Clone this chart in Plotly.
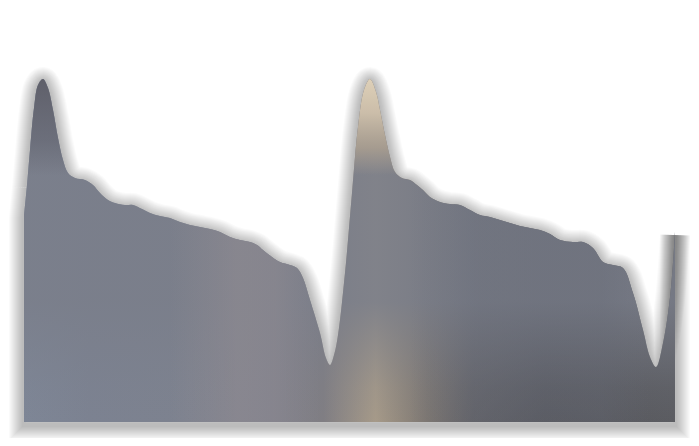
import plotly.graph_objects as go

# sample positions along the horizontal axis
t = [0, 3, 6, 10, 14, 19, 24, 29, 34, 39, 44, 51, 61, 69, 76, 84, 91, 101, 109, 118,
     126, 136, 146, 156, 166, 176, 186, 196, 206, 216, 226, 233, 239, 248, 256, 266, 273, 279, 286, 296,
     302, 306, 310, 314, 321, 328, 334, 340, 346, 352, 356, 361, 366, 371, 378, 386, 393, 399, 406, 416,
     426, 436, 446, 456, 466, 476, 486, 496, 506, 516, 526, 536, 549, 559, 569, 579, 589, 599, 609, 619,
     626, 632, 639, 646, 651]
# signal amplitude at each sample
amplitude = [207, 237, 272, 314, 337, 343, 334, 312, 284, 262, 249, 244, 242, 237, 229, 222, 219, 217, 217, 213,
             209, 206, 204, 200, 197, 195, 193, 190, 185, 182, 180, 177, 172, 165, 160, 157, 154, 144, 122, 89,
             64, 57, 67, 87, 149, 229, 295, 332, 343, 330, 312, 287, 265, 250, 244, 242, 237, 232, 225, 220,
             218, 217, 212, 207, 205, 202, 199, 196, 194, 192, 188, 182, 180, 180, 174, 160, 157, 154, 129, 92,
             65, 55, 79, 125, 190]

pad = 16
x_range = [t[0] - pad, t[-1] + pad]
y_range = [-pad, 398]
y_top = max(amplitude)

fig = go.Figure()

# soft drop shadow: smooth curve part + straight sides/bottom (base axes, shifted slightly down)
edge_x = [t[1], t[0], t[0], t[-1], t[-1]]
edge_y = [amplitude[1], amplitude[0], 0, 0, amplitude[-1]]
for w in range(30, 2, -2):
    fig.add_trace(go.Scatter(x=t[1:], y=amplitude[1:], mode="lines", xaxis="x", yaxis="y",
                             line=dict(color="rgba(0,0,0,0.021)", width=w, shape="spline", smoothing=1),
                             hoverinfo="skip"))
    fig.add_trace(go.Scatter(x=edge_x, y=edge_y, mode="lines", xaxis="x", yaxis="y",
                             line=dict(color="rgba(0,0,0,0.021)", width=w),
                             hoverinfo="skip"))

area_line = dict(width=0, shape="spline", smoothing=1, color="rgba(0,0,0,0)")
AX = dict(xaxis="x2", yaxis="y2")

# base area: colours of the lower band
fig.add_trace(go.Scatter(
    x=t, y=amplitude, mode="lines", fill="tozeroy", line=area_line, hoverinfo="skip", **AX,
    fillgradient=dict(type="horizontal", start=t[0], stop=t[-1], colorscale=[
        [0.00, "#7e8696"], [0.10, "#7c8291"], [0.25, "#7d828f"], [0.38, "#7a7d8a"],
        [0.46, "#807e83"], [0.54, "#a69a89"], [0.62, "#7d7772"], [0.69, "#626267"],
        [0.80, "#57585e"], [1.00, "#5b5c61"],
    ]),
))

# middle band tint over the whole shape
fig.add_trace(go.Scatter(
    x=t, y=amplitude, mode="lines", fill="tozeroy", line=area_line, hoverinfo="skip", **AX,
    fillgradient=dict(type="vertical", start=0, stop=y_top, colorscale=[
        [0.00, "rgba(122,126,138,0)"], [0.10, "rgba(122,126,138,0.15)"],
        [0.35, "rgba(122,126,138,0.85)"], [1.00, "rgba(122,126,138,0.85)"],
    ]),
))

# slightly darker tint on the second slope
m0, m1 = t.index(386), t.index(626)
fig.add_trace(go.Scatter(
    x=t[m0:m1 + 1], y=amplitude[m0:m1 + 1], mode="lines", fill="tozeroy", line=area_line,
    hoverinfo="skip", **AX,
    fillgradient=dict(type="horizontal", start=t[m0], stop=t[m1], colorscale=[
        [0.0, "rgba(100,104,116,0)"], [0.3, "rgba(100,104,116,0.3)"],
        [0.8, "rgba(100,104,116,0.3)"], [1.0, "rgba(100,104,116,0)"],
    ]),
))

# warm tint in the upper-middle of the first slope
i0, i1 = t.index(146), t.index(296)
fig.add_trace(go.Scatter(
    x=t[i0:i1 + 1], y=amplitude[i0:i1 + 1], mode="lines", fill="tozeroy", line=area_line,
    hoverinfo="skip", **AX,
    fillgradient=dict(type="horizontal", start=t[i0], stop=t[i1], colorscale=[
        [0.0, "rgba(152,144,148,0)"], [0.45, "rgba(152,144,148,0.45)"],
        [0.7, "rgba(152,144,148,0.4)"], [1.0, "rgba(152,144,148,0)"],
    ]),
))

# dark tint at the top of the first peak
j1 = t.index(51)
fig.add_trace(go.Scatter(
    x=t[:j1 + 1], y=amplitude[:j1 + 1], mode="lines", fill="tozeroy", line=area_line,
    hoverinfo="skip", **AX,
    fillgradient=dict(type="vertical", start=0, stop=y_top, colorscale=[
        [0.00, "rgba(96,98,110,0)"], [0.72, "rgba(96,98,110,0)"],
        [0.82, "rgba(98,100,112,0.6)"], [1.00, "rgba(92,92,102,0.9)"],
    ]),
))

# light beige tint at the top of the second peak
k0, k1 = t.index(321), t.index(378)
fig.add_trace(go.Scatter(
    x=t[k0:k1 + 1], y=amplitude[k0:k1 + 1], mode="lines", fill="tozeroy", line=area_line,
    hoverinfo="skip", **AX,
    fillgradient=dict(type="vertical", start=0, stop=y_top, colorscale=[
        [0.00, "rgba(200,186,165,0)"], [0.72, "rgba(172,160,145,0)"],
        [0.80, "rgba(175,162,145,0.8)"], [0.90, "rgba(205,191,170,0.97)"],
        [1.00, "rgba(222,208,184,1)"],
    ]),
))

fig.update_layout(
    width=699, height=446,
    margin=dict(l=0, r=16, t=16, b=16),
    paper_bgcolor="white", plot_bgcolor="white",
    showlegend=False,
    xaxis=dict(range=x_range, visible=False, fixedrange=True),
    yaxis=dict(range=[y_range[0] + 3, y_range[1] + 3], visible=False, fixedrange=True),
    xaxis2=dict(range=x_range, overlaying="x", visible=False, fixedrange=True),
    yaxis2=dict(range=y_range, overlaying="y", visible=False, fixedrange=True),
)

fig.write_html("out.html")
